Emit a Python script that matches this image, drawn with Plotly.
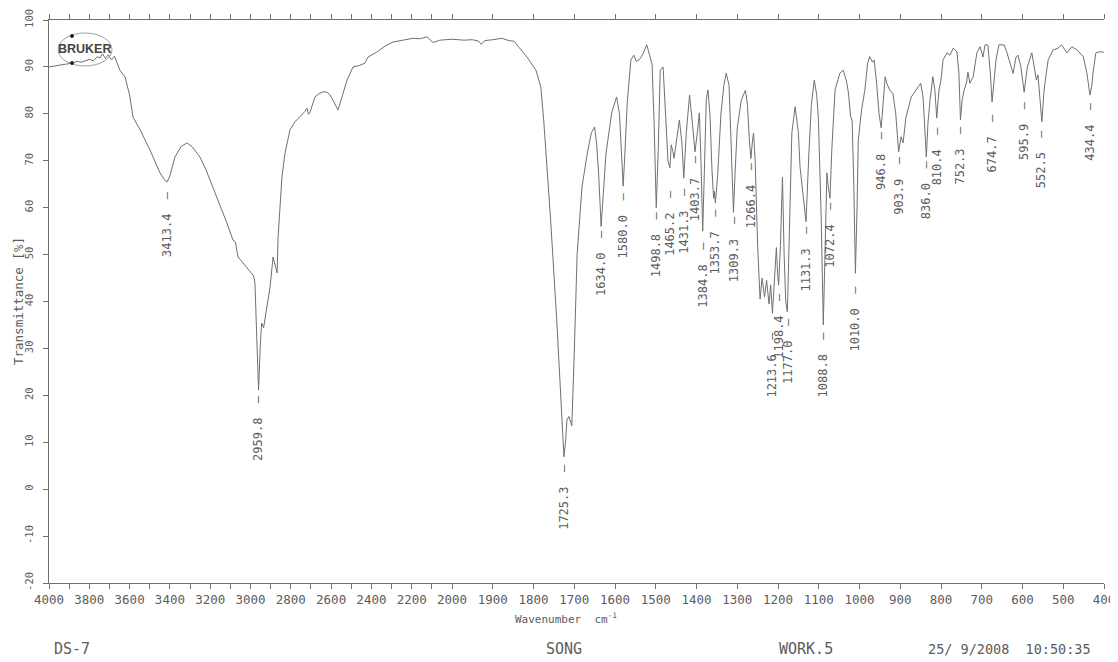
import numpy as np
import plotly.graph_objects as go

# ---------------- data ----------------
# 4000-2000 cm-1 (compressed scale)
WN_HIGH = [4000, 3960, 3920, 3886, 3860, 3840, 3800, 3780, 3760, 3747, 3735, 3720, 3705, 3690,
           3675, 3662, 3648, 3623, 3600, 3583, 3548, 3499, 3449, 3425, 3413, 3400, 3375, 3345,
           3315, 3290, 3251, 3220, 3186, 3150, 3117, 3087, 3075, 3062, 3037, 3002, 2985, 2978,
           2972, 2966, 2960, 2952, 2945, 2935, 2918, 2903, 2888, 2878, 2868, 2863, 2844, 2829,
           2804, 2779, 2744, 2730, 2720, 2712, 2705, 2680, 2660, 2640, 2620, 2605, 2590, 2566,
           2546, 2521, 2491, 2460, 2432, 2417, 2372, 2330, 2293, 2250, 2194, 2160, 2124, 2094,
           2060, 2030, 2000]
T_HIGH = [90.0, 90.3, 90.6, 90.8, 91.2, 91.0, 91.6, 91.3, 92.2, 91.9, 92.8, 91.8, 92.6, 91.5,
          92.3, 90.8, 89.3, 87.9, 84.0, 79.3, 76.6, 72.3, 67.4, 65.8, 65.5, 66.8, 70.8, 73.0,
          73.8, 73.0, 70.8, 68.0, 64.4, 60.5, 56.7, 53.1, 52.7, 49.5, 48.2, 46.3, 45.5, 44.0,
          35.0, 25.0, 21.1, 30.0, 35.4, 34.4, 39.0, 43.1, 49.5, 47.5, 46.1, 53.8, 66.5, 71.6,
          76.6, 78.3, 79.8, 80.5, 81.2, 79.9, 80.3, 83.6, 84.3, 84.7, 84.6, 84.0, 82.9, 80.8,
          83.6, 87.2, 90.0, 90.3, 90.8, 92.1, 93.2, 94.5, 95.3, 95.6, 96.1, 96.0, 96.4, 95.2,
          95.7, 95.8, 95.9]

# 2000-400 cm-1 (expanded scale)
WN_LOW = [2000, 1970, 1950, 1935, 1928, 1920, 1900, 1878, 1860, 1848, 1836, 1816, 1794, 1782,
          1775, 1766, 1758, 1743, 1733, 1725.3, 1721, 1718, 1713, 1706, 1700, 1693, 1681, 1668,
          1658, 1650, 1645, 1640, 1634, 1628, 1622, 1608, 1596, 1589, 1584, 1580, 1576, 1570,
          1561, 1554, 1548, 1540, 1533, 1522, 1515, 1509, 1504, 1498.8, 1494, 1489, 1482, 1476,
          1470, 1465.2, 1462, 1458, 1455, 1448, 1442, 1436, 1431.3, 1425, 1417, 1410, 1403.7,
          1398, 1393, 1389, 1384.8, 1380, 1376, 1372, 1367, 1362, 1358, 1356, 1353.7, 1348,
          1340, 1333, 1327, 1320, 1314, 1309.3, 1305, 1300, 1296, 1290, 1280, 1275, 1270,
          1266.4, 1263, 1260, 1256, 1250, 1244, 1239, 1233, 1228, 1222, 1218, 1213.6, 1208,
          1204, 1201, 1198.4, 1194, 1189, 1185, 1181, 1177, 1172, 1166, 1158, 1150, 1146, 1138,
          1131.3, 1124, 1118, 1111, 1105, 1101, 1094, 1088.8, 1084, 1080, 1076, 1072.4, 1068,
          1060, 1048, 1040, 1032, 1027, 1022, 1018, 1014, 1010, 1006, 1003, 995, 987, 980, 975,
          968, 964, 958, 952, 946.8, 941, 937, 933, 926, 918, 911, 903.9, 898, 893, 886, 873,
          860, 850, 844, 839, 836, 832, 827, 820, 815, 810.4, 805, 800, 795, 785, 778, 770, 761,
          756, 752.3, 748, 743, 737, 734, 729, 721, 712, 704, 697, 692, 685, 679, 674.7, 670,
          665, 658, 645, 638, 630, 623, 616, 611, 604, 600, 595.9, 591, 588, 577, 572, 566,
          562, 558, 552.5, 548, 545, 537, 525, 513, 504, 491, 479, 466, 451, 442, 438, 434.4,
          430, 427, 420, 412, 402, 400]
T_LOW = [95.9, 95.7, 95.8, 95.5, 94.8, 95.6, 95.8, 96.1, 95.6, 95.5, 94.2, 92.1, 89.3, 85.7,
         78.7, 68.0, 57.4, 36.1, 18.4, 6.9, 10.5, 14.7, 15.5, 13.5, 29.0, 50.0, 64.4, 71.6,
         76.0, 77.2, 73.5, 67.0, 56.0, 64.0, 71.6, 80.3, 83.6, 80.0, 70.0, 64.6, 71.0, 82.3,
         91.5, 92.5, 91.2, 91.6, 92.5, 94.7, 92.5, 90.5, 78.0, 60.0, 72.0, 89.3, 90.0, 80.0,
         70.0, 68.5, 73.4, 72.0, 70.5, 75.0, 78.7, 74.0, 66.3, 76.0, 84.0, 78.0, 71.9,
         76.0, 80.2, 70.0, 55.0, 70.0, 83.0, 85.1, 80.0, 68.0, 62.0, 63.5, 61.0, 67.0,
         80.0, 86.0, 88.7, 86.0, 72.0, 59.0, 68.0, 77.0, 79.3, 83.0, 85.0, 82.0, 74.0,
         70.5, 74.0, 75.9, 70.0, 52.0, 40.5, 45.0, 41.0, 44.5, 39.5, 43.5, 37.5, 45.0,
         51.5, 46.0, 43.5, 52.0, 66.5, 50.0, 40.0, 37.8, 58.0, 75.9, 81.5, 76.0, 68.7, 63.0,
         57.0, 72.0, 82.0, 87.2, 84.0, 79.3, 58.0, 35.0, 55.0, 67.4, 64.0, 62.0, 72.3,
         85.1, 88.7, 89.3, 87.0, 84.4, 79.5, 78.5, 65.0, 46.0, 60.0, 74.4, 80.8, 85.0, 90.8, 92.2,
         91.0, 91.5, 86.5, 80.0, 77.0, 84.0, 87.9, 86.5, 85.1, 84.3, 80.0, 71.9, 75.1, 73.8, 79.3, 83.6,
         85.1, 86.5, 83.6, 74.0, 70.8, 78.0, 82.9, 87.9, 85.0, 79.1, 85.0, 87.2, 91.5, 93.0, 92.5, 94.0, 93.2,
         88.7, 78.7, 83.0, 85.1, 86.8, 88.9, 86.5, 87.9, 93.0, 94.3, 92.1, 94.7, 94.7, 88.7, 82.5, 87.0,
         91.5, 94.7, 94.7, 93.0, 90.8, 88.6, 92.1, 92.5, 90.0, 87.0, 84.6, 88.0, 90.0, 93.0, 90.0, 87.2,
         88.3, 84.0, 78.3, 84.0, 86.5, 91.5, 93.6, 94.0, 94.7, 93.0, 94.3, 93.6, 92.2, 88.7, 86.0, 84.0,
         86.0, 88.7, 93.0, 93.2, 93.2, 93.0]

PEAK_WN = [3413.4, 2959.8, 1725.3, 1634.0, 1580.0, 1498.8, 1465.2, 1431.3, 1403.7, 1384.8,
           1353.7, 1309.3, 1266.4, 1213.6, 1198.4, 1177.0, 1131.3, 1088.8, 1072.4, 1010.0,
           946.8, 903.9, 836.0, 810.4, 752.3, 674.7, 595.9, 552.5, 434.4]
PEAK_LABELS = ["3413.4", "2959.8", "1725.3", "1634.0", "1580.0", "1498.8", "1465.2", "1431.3",
               "1403.7", "1384.8", "1353.7", "1309.3", "1266.4", "1213.6", "1198.4", "1177.0",
               "1131.3", "1088.8", "1072.4", "1010.0", "946.8", "903.9", "836.0", "810.4",
               "752.3", "674.7", "595.9", "552.5", "434.4"]

X_TICKS_HIGH = list(range(4000, 1999, -200))
X_TICK_LABELS_HIGH = [str(v) for v in X_TICKS_HIGH]
X_MINOR_HIGH = list(range(3900, 2000, -200))
X_TICKS_LOW = list(range(1900, 399, -100))
X_TICK_LABELS_LOW = [str(v) for v in X_TICKS_LOW]
Y_TICKS = list(range(-20, 101, 10))
Y_TICK_LABELS = [str(v) for v in Y_TICKS]

# ---------------- styling / layout helpers ----------------
LABEL_DROP = [1.7, 1.1, 1.3, 0.5, 1.1, 0.5, 4.5, 1.9, 0.5, 2.1, 0.9, 0.5, 0.6, 3.6, 1.5, 1.0,
              0.6, 1.1, 0.5, 2.3, 0.5, 0.6, 0.5, 1.5, 1.0, 2.3, 1.7, 1.3, 1.1]

MONO = "DejaVu Sans Mono"
INK = "#5c5c5c"
LINE = "#707070"

# the page body keeps the browser's default 8 px margin, so the figure starts at (8, 8)
OFF = 8
WIN_W, WIN_H = 1118, 662
W, H = WIN_W - OFF, WIN_H - OFF
PLOT_L, PLOT_R, PLOT_T, PLOT_B = 49, 1104, 20, 583      # plot area in window pixels
ML, MR, MT, MB = PLOT_L - OFF, WIN_W - PLOT_R, PLOT_T - OFF, WIN_H - PLOT_B
PW = PLOT_R - PLOT_L
PH = PLOT_B - PLOT_T
SPLIT = (452 - PLOT_L) / PW


def px(x):
    return (x - PLOT_L) / PW


def py(y):
    return (PLOT_B - y) / PH


fig = go.Figure()
fig.add_trace(go.Scatter(x=WN_HIGH, y=T_HIGH, mode="lines", xaxis="x", yaxis="y",
                         line=dict(color=LINE, width=1), hoverinfo="x+y", showlegend=False))
fig.add_trace(go.Scatter(x=WN_LOW, y=T_LOW, mode="lines", xaxis="x2", yaxis="y",
                         line=dict(color=LINE, width=1), hoverinfo="x+y", showlegend=False))

all_wn = np.array(WN_HIGH + WN_LOW[1:], dtype=float)
all_t = np.array(T_HIGH + T_LOW[1:], dtype=float)
order = np.argsort(all_wn)

for wn, lab, drop in zip(PEAK_WN, PEAK_LABELS, LABEL_DROP):
    tval = float(np.interp(wn, all_wn[order], all_t[order]))
    fig.add_annotation(x=wn, y=tval - drop, xref="x" if wn > 2000 else "x2", yref="y",
                       text=lab + "  \u2014", textangle=-90, showarrow=False,
                       xanchor="center", yanchor="top", borderpad=0,
                       font=dict(family=MONO, size=12, color=INK))

axis_common = dict(showline=True, linecolor=LINE, linewidth=1, ticks="outside", ticklen=5,
                   tickcolor=LINE, showgrid=False, zeroline=False, mirror="ticks",
                   automargin=False,
                   tickfont=dict(family=MONO, size=12.5, color=INK), tickmode="array")

fig.update_layout(
    width=W, height=H,
    margin=dict(l=ML, r=MR, t=MT, b=MB),
    paper_bgcolor="white", plot_bgcolor="white",
    xaxis=dict(domain=[0, SPLIT], range=[4000, 2000], anchor="y",
               tickvals=X_TICKS_HIGH, ticktext=X_TICK_LABELS_HIGH,
               minor=dict(tickmode="array", tickvals=X_MINOR_HIGH, ticks="outside",
                          ticklen=5, tickcolor=LINE, showgrid=False),
               **axis_common),
    xaxis2=dict(domain=[SPLIT, 1], range=[2000, 400], anchor="y",
                tickvals=X_TICKS_LOW, ticktext=X_TICK_LABELS_LOW, **axis_common),
    yaxis=dict(range=[-20, 100], anchor="x", tickmode="array", tickvals=Y_TICKS,
               ticktext=Y_TICK_LABELS, tickangle=-90, showline=True, linecolor=LINE,
               ticks="outside", ticklen=5, tickcolor=LINE, showgrid=False, zeroline=False,
               ticklabelstandoff=6, automargin=False,
               tickfont=dict(family=MONO, size=10.5, color=INK)),
    showlegend=False,
)

# axis titles and printout footer
fig.add_annotation(xref="paper", yref="paper", x=px(18), y=py(301), text="Transmittance [%]",
                   textangle=-90, showarrow=False, xanchor="center", yanchor="middle",
                   font=dict(family=MONO, size=12.5, color=INK))
fig.add_annotation(xref="paper", yref="paper", x=px(566), y=py(618),
                   text="Wavenumber  cm<sup>-1</sup>", showarrow=False,
                   xanchor="center", yanchor="middle", font=dict(family=MONO, size=11, color=INK))
for txt, x, anchor, size in [("DS-7", 52, "left", 15), ("SONG", 564, "center", 15),
                             ("WORK.5", 777, "left", 15),
                             ("25/ 9/2008  10:50:35", 1093, "right", 13.5)]:
    fig.add_annotation(xref="paper", yref="paper", x=px(x), y=py(649), text=txt,
                       showarrow=False, xanchor=anchor, yanchor="middle",
                       font=dict(family=MONO, size=size, color=INK))

# Bruker logo
fig.add_shape(type="circle", xref="paper", yref="paper", x0=px(58), x1=px(112), y0=py(66),
              y1=py(33), line=dict(color="#a0a0a0", width=1))
for yy in (36, 63):
    fig.add_shape(type="circle", xref="paper", yref="paper", x0=px(70.5), x1=px(73.5),
                  y0=py(yy + 1.5), y1=py(yy - 1.5), line=dict(color="#222", width=1),
                  fillcolor="#222")
fig.add_annotation(xref="paper", yref="paper", x=px(84), y=py(49), text="<b>BRUKER</b>",
                   showarrow=False, xanchor="center", yanchor="middle",
                   font=dict(family="Liberation Sans", size=12.5, color="#444"))

fig.write_html("out.html")
